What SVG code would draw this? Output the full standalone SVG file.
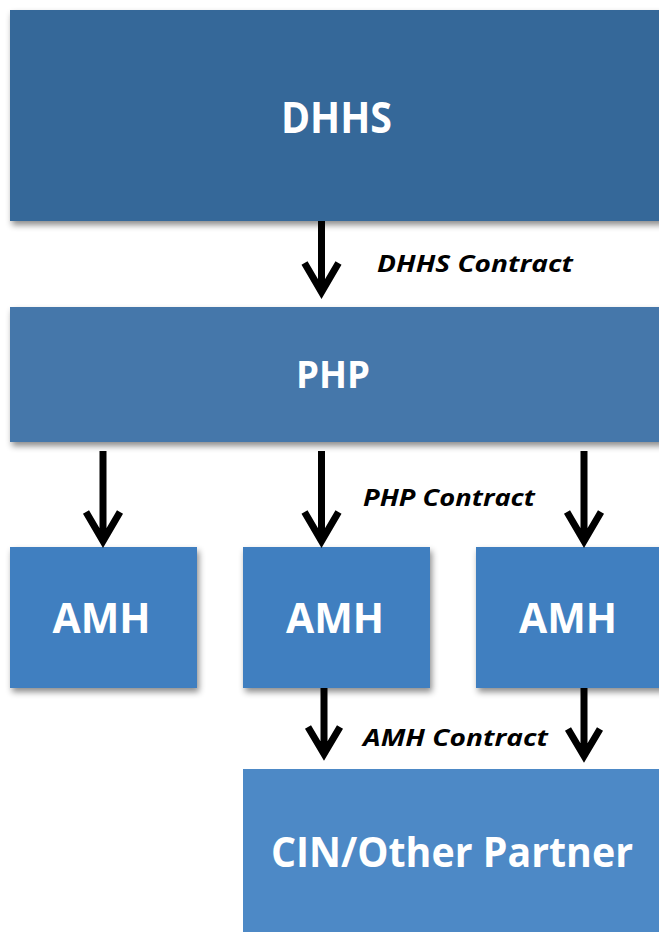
<svg xmlns="http://www.w3.org/2000/svg" width="659" height="932" viewBox="0 0 659 932">
<style>
.box-label{font-family:"Open Sans","Noto Sans","DejaVu Sans",sans-serif;font-weight:bold;fill:#ffffff}
.edge-label{font-family:"Open Sans","Noto Sans","DejaVu Sans",sans-serif;font-weight:bold;font-style:italic;fill:#000000;font-size:24px}
.arrow{fill:none;stroke:#000000;stroke-width:7;stroke-linejoin:miter;stroke-miterlimit:10;stroke-linecap:butt}
</style>
<defs>
<filter id="sh" x="-10%" y="-10%" width="130%" height="130%">
<feDropShadow dx="2" dy="4" stdDeviation="3" flood-color="#000000" flood-opacity="0.45"/>
</filter>
</defs>
<rect width="659" height="932" fill="#ffffff"/>
<g id="node-dhhs">
<rect x="10" y="10" width="660" height="211" fill="#356899" filter="url(#sh)"/>
<text class="box-label" x="281" y="133" font-size="43" textLength="111" lengthAdjust="spacingAndGlyphs">DHHS</text>
</g>
<g id="node-php">
<rect x="10" y="307" width="660" height="135" fill="#4577aa" filter="url(#sh)"/>
<text class="box-label" x="296" y="388" font-size="38" textLength="74" lengthAdjust="spacingAndGlyphs">PHP</text>
</g>
<g id="node-amh1">
<rect x="10" y="547" width="187" height="141" fill="#3f7fc0" filter="url(#sh)"/>
<text class="box-label" x="52.5" y="633" font-size="41" textLength="98" lengthAdjust="spacingAndGlyphs">AMH</text>
</g>
<g id="node-amh2">
<rect x="243" y="547" width="187" height="141" fill="#3f7fc0" filter="url(#sh)"/>
<text class="box-label" x="286" y="633" font-size="41" textLength="98" lengthAdjust="spacingAndGlyphs">AMH</text>
</g>
<g id="node-amh3">
<rect x="476" y="547" width="200" height="141" fill="#3f7fc0" filter="url(#sh)"/>
<text class="box-label" x="519" y="633" font-size="41" textLength="98" lengthAdjust="spacingAndGlyphs">AMH</text>
</g>
<g id="node-cin">
<rect x="243" y="769" width="430" height="175" fill="#4d89c6"/>
<text class="box-label" x="271" y="867" font-size="42" textLength="362" lengthAdjust="spacingAndGlyphs">CIN/Other Partner</text>
</g>
<g id="connectors">
<path class="arrow" d="M321.5,221 V292 M304.5,263 L321.5,292 L338.5,263"/>
<path class="arrow" d="M103,451 V541 M86,512 L103,541 L120,512"/>
<path class="arrow" d="M321.5,451 V541 M304.5,512 L321.5,541 L338.5,512"/>
<path class="arrow" d="M584,451 V541 M567,512 L584,541 L601,512"/>
<path class="arrow" d="M324,688 V754 M308,727 L324,754 L340,727"/>
<path class="arrow" d="M584,688 V756 M568,729 L584,756 L600,729"/>
<text class="edge-label" x="377" y="272" textLength="196" lengthAdjust="spacingAndGlyphs">DHHS Contract</text>
<text class="edge-label" x="363" y="506" textLength="172" lengthAdjust="spacingAndGlyphs">PHP Contract</text>
<text class="edge-label" x="363" y="746" textLength="185" lengthAdjust="spacingAndGlyphs">AMH Contract</text>
</g>
</svg>
